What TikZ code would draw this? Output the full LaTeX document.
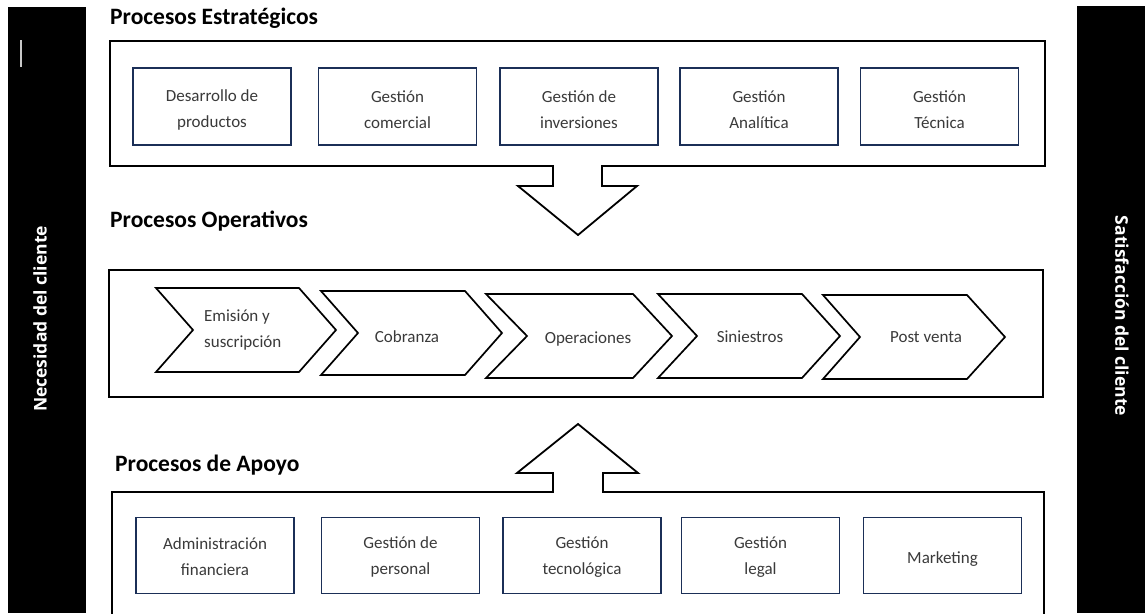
\documentclass[tikz,border=0pt]{standalone}
\usepackage{fontspec}
\setmainfont{Carlito}
\newfontfamily\sidefont{Open Sans}
\definecolor{navy}{HTML}{1B2F57}
\definecolor{bodytext}{HTML}{3A3A3A}
\definecolor{barline}{HTML}{C8C8C8}
\begin{document}
\begin{tikzpicture}[x=1pt,y=-1pt,
  frame/.style={draw=black,line width=1.8pt,line join=miter},
  chevline/.style={draw=black,line width=1.7pt,line join=miter,fill=white},
  sbox/.style={draw=navy,line width=1.9pt,minimum width=158pt,inner sep=0pt},
  stxt/.style={text=bodytext,font=\fontsize{17}{26}\selectfont,align=center,inner sep=0pt},
  ctxt/.style={text=bodytext,font=\fontsize{17}{26}\selectfont,inner sep=0pt},
  title/.style={text=black,font=\fontsize{23.5}{28}\selectfont\bfseries,inner sep=0pt,anchor=base west},
  sidetxt/.style={text=white,font=\sidefont\fontsize{17.5}{20}\selectfont\bfseries,inner sep=0pt}
]
\useasboundingbox (0,0) rectangle (1145,613);
\fill[white] (0,0) rectangle (1145,613);

% side bars
\fill[black] (8,7) rectangle (86,613);
\fill[black] (1077,6) rectangle (1145,613);
\draw[barline,line width=1.4pt] (21,40) -- (21,67);
\node[sidetxt,rotate=90] (need) at (40,319) {Necesidad del cliente};
\node[sidetxt,rotate=-90] (sat) at (1122,316) {Satisfacción del cliente};

% strategic processes: frame with downward arrow
\node[title] (tstrat) at (110,24) {Procesos Estratégicos};
\draw[frame] (110,41) -- (1045,41) -- (1045,166) -- (602,166) -- (602,186)
  -- (637,186) -- (578,235) -- (518,186) -- (553,186) -- (553,166) -- (110,166) -- cycle;

\node[sbox,minimum height=77pt] (s1) at (212,106.5) {};
\node[sbox,minimum height=77pt] (s2) at (397.5,106.5) {};
\node[sbox,minimum height=77pt] (s3) at (579,106.5) {};
\node[sbox,minimum height=77pt] (s4) at (759,106.5) {};
\node[sbox,minimum height=77pt] (s5) at (939.5,106.5) {};
\node[stxt] (s1t) at (212,110) {Desarrollo de\\productos};
\node[stxt] (s2t) at (397.5,110) {Gestión\\comercial};
\node[stxt] (s3t) at (579,110) {Gestión de\\inversiones};
\node[stxt] (s4t) at (759,110) {Gestión\\Analítica};
\node[stxt] (s5t) at (939.5,110) {Gestión\\Técnica};

% operative processes
\node[title] (toper) at (110,227) {Procesos Operativos};
\draw[frame] (109,270) rectangle (1043,397);

\draw[chevline] (156,288) -- (299,288) -- (336,330) -- (299,372) -- (156,372) -- (193,330) -- cycle;
\draw[chevline] (321,291) -- (465,291) -- (502,333) -- (465,375) -- (321,375) -- (358,333) -- cycle;
\draw[chevline] (486,294) -- (633,294) -- (672,336) -- (633,378) -- (486,378) -- (527,336) -- cycle;
\draw[chevline] (658,294) -- (802,294) -- (840,336) -- (802,378) -- (658,378) -- (697,336) -- cycle;
\draw[chevline] (823,295) -- (967,295) -- (1005,337) -- (967,379) -- (823,379) -- (860,337) -- cycle;

\node[stxt,align=left,anchor=west] (c1t) at (204,330) {Emisión y\\suscripción};
\node[ctxt] (c2t) at (407,336.7) {Cobranza};
\node[ctxt] (c3t) at (588,339) {Operaciones};
\node[ctxt] (c4t) at (750,337) {Siniestros};
\node[ctxt] (c5t) at (926,337) {Post venta};

% support processes: frame with upward arrow
\node[title] (tsupp) at (115,471) {Procesos de Apoyo};
\draw[frame] (112,617) -- (112,492) -- (553,492) -- (553,473) -- (517,473)
  -- (578,424) -- (638,473) -- (603,473) -- (603,492) -- (1044,492) -- (1044,617);

\node[sbox,minimum height=76pt] (b1) at (215,555.5) {};
\node[sbox,minimum height=76pt] (b2) at (400.5,555.5) {};
\node[sbox,minimum height=76pt] (b3) at (582,555.5) {};
\node[sbox,minimum height=76pt] (b4) at (760.5,555.5) {};
\node[sbox,minimum height=76pt] (b5) at (942.5,555.5) {};
\node[stxt] (b1t) at (215,557) {Administración\\financiera};
\node[stxt] (b2t) at (400.5,557) {Gestión de\\personal};
\node[stxt] (b3t) at (582,557) {Gestión\\tecnológica};
\node[stxt] (b4t) at (760.5,557) {Gestión\\legal};
\node[ctxt] (b5t) at (942.5,558.7) {Marketing};
\end{tikzpicture}
\end{document}
